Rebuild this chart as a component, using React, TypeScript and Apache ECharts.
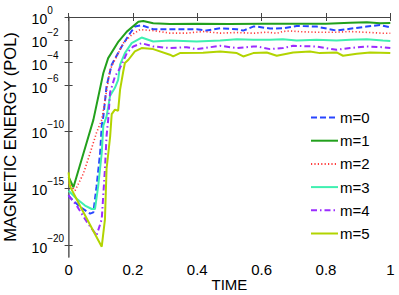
import React, { useEffect, useRef } from 'react';
import * as echarts from 'echarts';

// Data: [time, log10(magnetic energy)]
const seriesNames = ['m=0', 'm=1', 'm=2', 'm=3', 'm=4', 'm=5'];
const seriesColors = ['#2845ff', '#22a01c', '#ff3b3b', '#3ff0b0', '#9b2cff', '#b2d400'];
const seriesDash = ['dashed', 'solid', 'dotted', 'solid', 'dashdot', 'solid'];

const xTickInterval = 0.2;
const yTickExponents = [-20, -15, -10, -6, -4, -2, 0];

const m0 = [
  [0, -15.6], [0.004, -15.8], [0.035, -16.6], [0.067, -17.2], [0.077, -17.1], [0.087, -14.8],
  [0.098, -11.9], [0.103, -9.5], [0.108, -8.7], [0.118, -6.06], [0.134, -4.17], [0.165, -2.58],
  [0.191, -1.42], [0.206, -0.84], [0.227, -0.72], [0.263, -1.07], [0.315, -1.07], [0.398, -1.07],
  [0.429, -1.19], [0.471, -0.99], [0.523, -1.07], [0.543, -1.19], [0.574, -0.84], [0.585, -0.84],
  [0.626, -1.01], [0.666, -0.99], [0.709, -0.78], [0.771, -0.84], [0.833, -1.19], [0.875, -1.03],
  [0.927, -0.84], [0.968, -0.7], [1.0, -0.9],
];
const m1 = [
  [0, -14.0], [0.015, -14.9], [0.035, -13.0], [0.056, -11.0], [0.077, -9.0], [0.108, -4.9],
  [0.123, -3.6], [0.155, -2.15], [0.181, -1.28], [0.217, -0.41], [0.232, -0.35], [0.263, -0.55],
  [0.315, -0.61], [0.4, -0.6], [0.5, -0.62], [0.6, -0.6], [0.7, -0.6], [0.8, -0.58], [0.875, -0.5],
  [0.927, -0.46], [0.968, -0.55], [1.0, -0.52],
];
const m2 = [
  [0, -14.5], [0.02, -15.2], [0.046, -13.7], [0.067, -11.9], [0.087, -10.1], [0.103, -9.0],
  [0.129, -4.6], [0.17, -2.29], [0.196, -1.57], [0.222, -1.1], [0.263, -1.19], [0.315, -1.41],
  [0.367, -1.41], [0.418, -1.27], [0.471, -1.41], [0.523, -1.36], [0.574, -1.42], [0.616, -1.33],
  [0.647, -1.42], [0.666, -1.27], [0.688, -1.22], [0.729, -1.3], [0.771, -1.33], [0.833, -1.33],
  [0.875, -1.27], [0.937, -1.36], [0.977, -1.42], [1.0, -1.42],
];
const m3 = [
  [0, -15.2], [0.025, -15.9], [0.051, -16.5], [0.072, -16.8], [0.082, -16.8], [0.092, -14.8],
  [0.103, -11.9], [0.108, -9.5], [0.118, -8.7], [0.129, -6.9], [0.144, -6.2], [0.154, -5.5],
  [0.16, -4.17], [0.175, -3.16], [0.196, -2.29], [0.227, -1.8], [0.263, -2.14], [0.315, -2.06],
  [0.398, -2.14], [0.471, -2.06], [0.523, -1.94], [0.574, -2.0], [0.626, -2.0], [0.666, -1.94],
  [0.709, -2.06], [0.771, -2.0], [0.833, -2.06], [0.875, -2.0], [0.927, -1.94], [0.977, -2.06],
  [1.0, -2.1],
];
const m4 = [
  [0, -15.6], [0.025, -16.5], [0.056, -17.9], [0.087, -19.1], [0.103, -17.7], [0.113, -13.3],
  [0.118, -10.4], [0.123, -9.0], [0.129, -6.6], [0.144, -5.2], [0.154, -4.75], [0.165, -4.17],
  [0.181, -3.16], [0.201, -2.58], [0.227, -2.29], [0.263, -2.58], [0.315, -2.72], [0.367, -2.64],
  [0.398, -2.81], [0.471, -2.52], [0.523, -2.72], [0.574, -2.58], [0.585, -2.58], [0.626, -2.81],
  [0.666, -2.72], [0.698, -2.52], [0.771, -2.58], [0.833, -2.87], [0.875, -2.72], [0.927, -2.58],
  [0.977, -2.64], [1.0, -2.72],
];
const m5 = [
  [0, -13.6], [0.004, -14.8], [0.035, -16.5], [0.067, -18.2], [0.103, -20.1], [0.113, -17.7],
  [0.118, -13.3], [0.129, -10.5], [0.134, -8.5], [0.144, -8.1], [0.154, -8.2], [0.16, -6.35],
  [0.17, -4.75], [0.175, -4.03], [0.186, -3.74], [0.206, -3.0], [0.227, -2.72], [0.263, -2.81],
  [0.315, -3.3], [0.325, -3.45], [0.346, -3.16], [0.418, -3.13], [0.471, -3.01], [0.523, -3.16],
  [0.543, -3.45], [0.574, -3.16], [0.616, -3.1], [0.647, -3.39], [0.698, -3.1], [0.75, -3.01],
  [0.781, -3.16], [0.833, -3.1], [0.853, -3.39], [0.896, -3.22], [0.937, -3.1], [1.0, -3.16],
];
const allData = [m0, m1, m2, m3, m4, m5];

const FONT = 'Liberation Sans, Arial, Helvetica, sans-serif';

function dashFor(kind: string): any {
  if (kind === 'dashed') return [6, 3];
  if (kind === 'dotted') return [1.2, 2.2];
  if (kind === 'dashdot') return [6, 3, 1.5, 3];
  return 'solid';
}

export default function App() {
  const ref = useRef<HTMLDivElement>(null);
  useEffect(() => {
    const chart = echarts.init(ref.current!, null, { renderer: 'svg' });
    const axisLineColor = '#444';
    chart.setOption({
      animation: false,
      backgroundColor: '#fff',
      grid: { left: 68.6, right: 8.7, top: 17, bottom: 38, containLabel: false, outerBoundsMode: 'none' },
      legend: {
        orient: 'vertical',
        left: 305,
        top: 105,
        itemWidth: 27,
        itemHeight: 14,
        itemGap: 8.2,
        data: seriesNames,
        itemStyle: { opacity: 0 },
        textStyle: { fontFamily: FONT, fontSize: 15, color: '#000', padding: [0, 0, 0, -3] },
      },
      xAxis: [
        {
          type: 'value',
          min: 0,
          max: 1,
          interval: xTickInterval,
          name: 'TIME',
          nameLocation: 'middle',
          nameGap: 20,
          nameMoveOverlap: false,
          nameTextStyle: { fontFamily: FONT, fontSize: 15, color: '#000' },
          axisLine: { lineStyle: { color: axisLineColor, width: 1 } },
          axisTick: { inside: true, length: 4, lineStyle: { color: axisLineColor } },
          axisLabel: { fontFamily: FONT, fontSize: 15, color: '#000', margin: 5 },
          splitLine: { show: false },
        },
        {
          type: 'value',
          position: 'top',
          min: 0,
          max: 1,
          interval: xTickInterval,
          axisLine: { lineStyle: { color: axisLineColor, width: 1 } },
          axisTick: { inside: true, length: 4, lineStyle: { color: axisLineColor } },
          axisLabel: { show: false },
          splitLine: { show: false },
        },
      ],
      yAxis: [
        {
          type: 'value',
          min: -21,
          max: 0,
          name: 'MAGNETIC ENERGY (POL)',
          nameLocation: 'middle',
          nameGap: 50,
          nameMoveOverlap: false,
          nameTextStyle: { fontFamily: FONT, fontSize: 16.5, color: '#000' },
          axisLine: { lineStyle: { color: axisLineColor, width: 1 } },
          axisTick: { inside: true, length: 4, customValues: yTickExponents, lineStyle: { color: axisLineColor } },
          axisLabel: {
            customValues: yTickExponents,
            align: 'left',
            margin: 37,
            padding: [4, 0, 0, 0],
            formatter: (v: number) => `{b|10}{e|${v === 0 ? '0' : '\u2212' + Math.abs(v)}}`,
            rich: {
              b: { fontFamily: FONT, fontSize: 14, color: '#000', lineHeight: 28 },
              e: { fontFamily: FONT, fontSize: 10, color: '#000', lineHeight: 11, verticalAlign: 'top' },
            },
          },
          splitLine: { show: false },
        },
        {
          type: 'value',
          position: 'right',
          min: -21,
          max: 0,
          axisLine: { lineStyle: { color: '#777', width: 1.5 } },
          axisTick: { inside: true, length: 4, customValues: yTickExponents, lineStyle: { color: axisLineColor } },
          axisLabel: { show: false },
          splitLine: { show: false },
        },
      ],
      series: allData.map((d, i) => ({
        name: seriesNames[i],
        type: 'line',
        data: d,
        symbol: 'none',
        showSymbol: false,
        smooth: false,
        lineStyle: {
          color: seriesColors[i],
          width: i === 2 ? 1.6 : 2,
          type: dashFor(seriesDash[i]),
        },
        itemStyle: { color: seriesColors[i] },
        z: 2 + i,
      })),
    });
    return () => chart.dispose();
  }, []);
  return <div ref={ref} style={{ position: 'absolute', left: 0, top: 0, width: 399, height: 295 }} />;
}
